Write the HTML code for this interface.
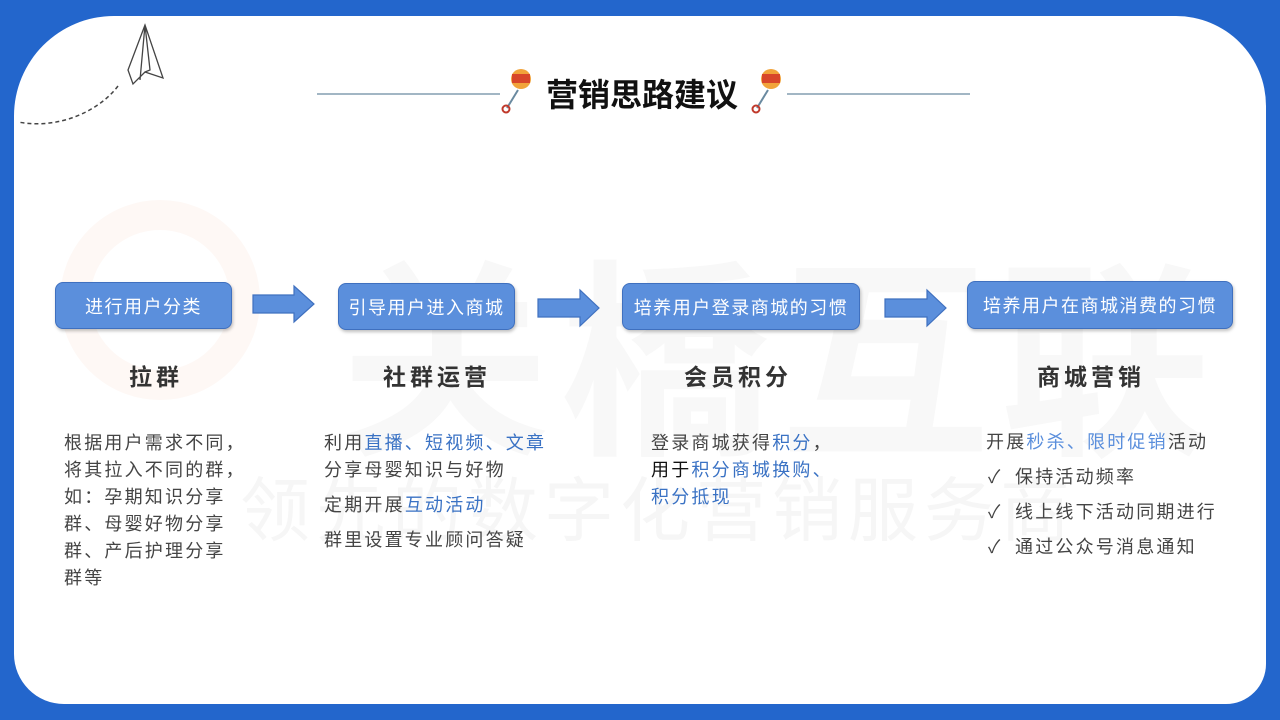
<!DOCTYPE html>
<html><head><meta charset="utf-8"><style>
*{margin:0;padding:0;box-sizing:border-box}
body{width:1280px;height:720px;background:#2366cc;position:relative;overflow:hidden;font-family:"Liberation Sans","Noto Sans CJK SC",sans-serif}
.panel{position:absolute;left:14px;top:16px;width:1252px;height:688px;background:#fff;border-radius:100px 90px 40px 50px}
.a{position:absolute;white-space:nowrap}
.box{position:absolute;background:#5b8fdc;border:1.5px solid #3f70bf;border-radius:8px;color:#fff;font-size:18px;letter-spacing:1.5px;display:flex;align-items:center;justify-content:center;box-shadow:1px 2px 3px rgba(0,0,0,.25)}
.h{position:absolute;font-size:23px;font-weight:bold;color:#333;letter-spacing:4px;transform:translateX(-50%);white-space:nowrap}
.t{position:absolute;font-size:18px;color:#444;line-height:27px;white-space:nowrap;letter-spacing:2.2px}
.b{color:#3a72c4}
.wm{position:absolute;white-space:nowrap}
</style></head><body>
<div class="panel"></div>
<div class="wm" style="left:340px;top:195px;font-size:210px;font-weight:bold;letter-spacing:10px;color:#f8f8f8">关橋互联</div>
<div class="wm" style="left:240px;top:455px;font-size:70px;letter-spacing:6px;color:#f6f6f6">领先的数字化营销服务商</div>
<div class="a" style="left:60px;top:200px;width:200px;height:200px;border-radius:50%;border:30px solid #fef8f5"></div>
<svg class="a" style="left:0;top:0" width="1280" height="140">
<path d="M145 25 L128 70 L133 84 L145 72 L163 78 Z M145 25 L140 80 M145 25 L150 70 L145 72" fill="none" stroke="#444" stroke-width="1.3"/>
<path d="M118 86 C100 110 60 130 18 122" fill="none" stroke="#444" stroke-width="1.5" stroke-dasharray="4 3"/>
<line x1="317" y1="94" x2="500" y2="94" stroke="#6a8aa0" stroke-width="1.3"/>
<line x1="787" y1="94" x2="970" y2="94" stroke="#6a8aa0" stroke-width="1.3"/>
<g><line x1="518" y1="90" x2="507" y2="108" stroke="#6a8aa0" stroke-width="2"/><circle cx="521" cy="79" r="10" fill="#f1a33a"/><rect x="512" y="74" width="18" height="9" fill="#d8462a"/><circle cx="506" cy="109" r="3.5" fill="none" stroke="#c0392b" stroke-width="2"/></g>
<g><line x1="768" y1="90" x2="757" y2="108" stroke="#6a8aa0" stroke-width="2"/><circle cx="771" cy="79" r="10" fill="#f1a33a"/><rect x="762" y="74" width="18" height="9" fill="#d8462a"/><circle cx="756" cy="109" r="3.5" fill="none" stroke="#c0392b" stroke-width="2"/></g>
</svg>
<div class="a" style="left:546px;top:75px;font-size:32px;font-weight:bold;color:#111;line-height:40px">营销思路建议</div>

<div class="box" style="left:55px;top:282px;width:177px;height:47px">进行用户分类</div>
<div class="box" style="left:338px;top:283px;width:177px;height:47px">引导用户进入商城</div>
<div class="box" style="left:622px;top:283px;width:238px;height:47px">培养用户登录商城的习惯</div>
<div class="box" style="left:967px;top:281px;width:266px;height:48px">培养用户在商城消费的习惯</div>

<svg class="a" style="left:0;top:280px" width="1280" height="50">
<g fill="#5b8fdc" stroke="#3f70bf" stroke-width="1.2">
<path d="M253 15 H294 V6 L314 24 L294 42 V33 H253 Z"/>
<path d="M538 19 H580 V10 L599 28 L580 46 V37 H538 Z"/>
<path d="M885 19 H927 V10 L946 28 L927 46 V37 H885 Z"/>
</g></svg>

<div class="h" style="left:156px;top:358px">拉群</div>
<div class="h" style="left:437px;top:358px">社群运营</div>
<div class="h" style="left:738px;top:358px">会员积分</div>
<div class="h" style="left:1091px;top:358px">商城营销</div>

<div class="t" style="left:64px;top:430px">根据用户需求不同，<br>将其拉入不同的群，<br>如：孕期知识分享<br>群、母婴好物分享<br>群、产后护理分享<br>群等</div>

<div class="t" style="left:324px;top:430px">利用<span class="b">直播、短视频、文章</span><br>分享母婴知识与好物</div>
<div class="t" style="left:324px;top:492px">定期开展<span class="b">互动活动</span></div>
<div class="t" style="left:324px;top:527px">群里设置专业顾问答疑</div>

<div class="t" style="left:651px;top:430px">登录商城获得<span class="b">积分</span>，<br><span style="color:#111">用于</span><span class="b">积分商城换购、</span><br><span class="b">积分抵现</span></div>

<div class="t" style="left:986px;top:429px">开展<span class="b" style="color:#5b8fdc">秒杀、限时促销</span>活动</div>
<div class="t" style="left:988px;top:464px">✓</div><div class="t" style="left:1015px;top:464px">保持活动频率</div>
<div class="t" style="left:988px;top:499px">✓</div><div class="t" style="left:1015px;top:499px">线上线下活动同期进行</div>
<div class="t" style="left:988px;top:534px">✓</div><div class="t" style="left:1015px;top:534px">通过公众号消息通知</div>
</body></html>
